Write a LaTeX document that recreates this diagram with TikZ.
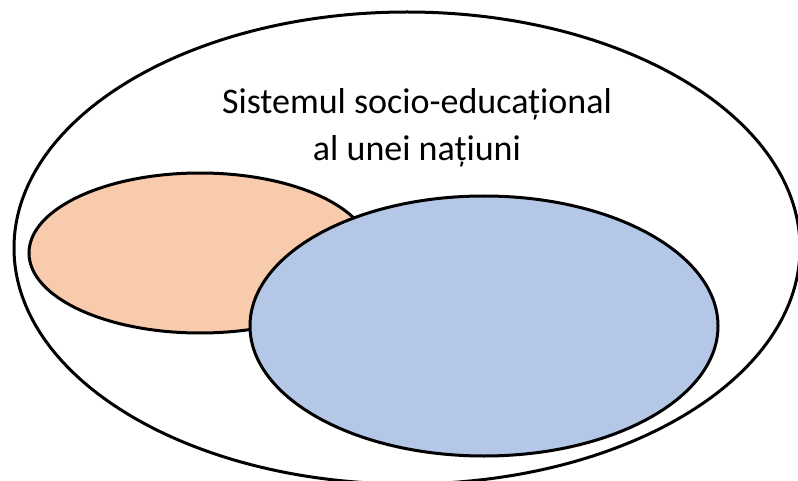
\documentclass[tikz,border=0pt]{standalone}
\usepackage{fontspec}
\setmainfont{Carlito}
\usepackage{tikz}

\definecolor{peach}{RGB}{248,203,173}
\definecolor{lightblue}{RGB}{180,199,231}

\begin{document}
\begin{tikzpicture}[x=1pt, y=-1pt, line width=3pt]

    % Picture frame
    \useasboundingbox (0,0) rectangle (798,481);
    \clip (0,0) rectangle (798,481);

    % Outer ellipse: the whole system
    \def\outerrx{393}
    \def\outerry{236}
    \draw (407,248) ellipse [x radius=\outerrx, y radius=\outerry];

    % Left ellipse
    \draw [fill=peach] (200,253) ellipse [x radius=171, y radius=80];

    % Right ellipse, drawn over the left one
    \draw [fill=lightblue] (484,326) ellipse [x radius=234, y radius=130];

    % Label of the outer ellipse
    \node (title) at (417,128) [align=center, font=\fontsize{36}{47}\selectfont]
        {Sistemul socio-educațional\\al unei națiuni};

\end{tikzpicture}
\end{document}
